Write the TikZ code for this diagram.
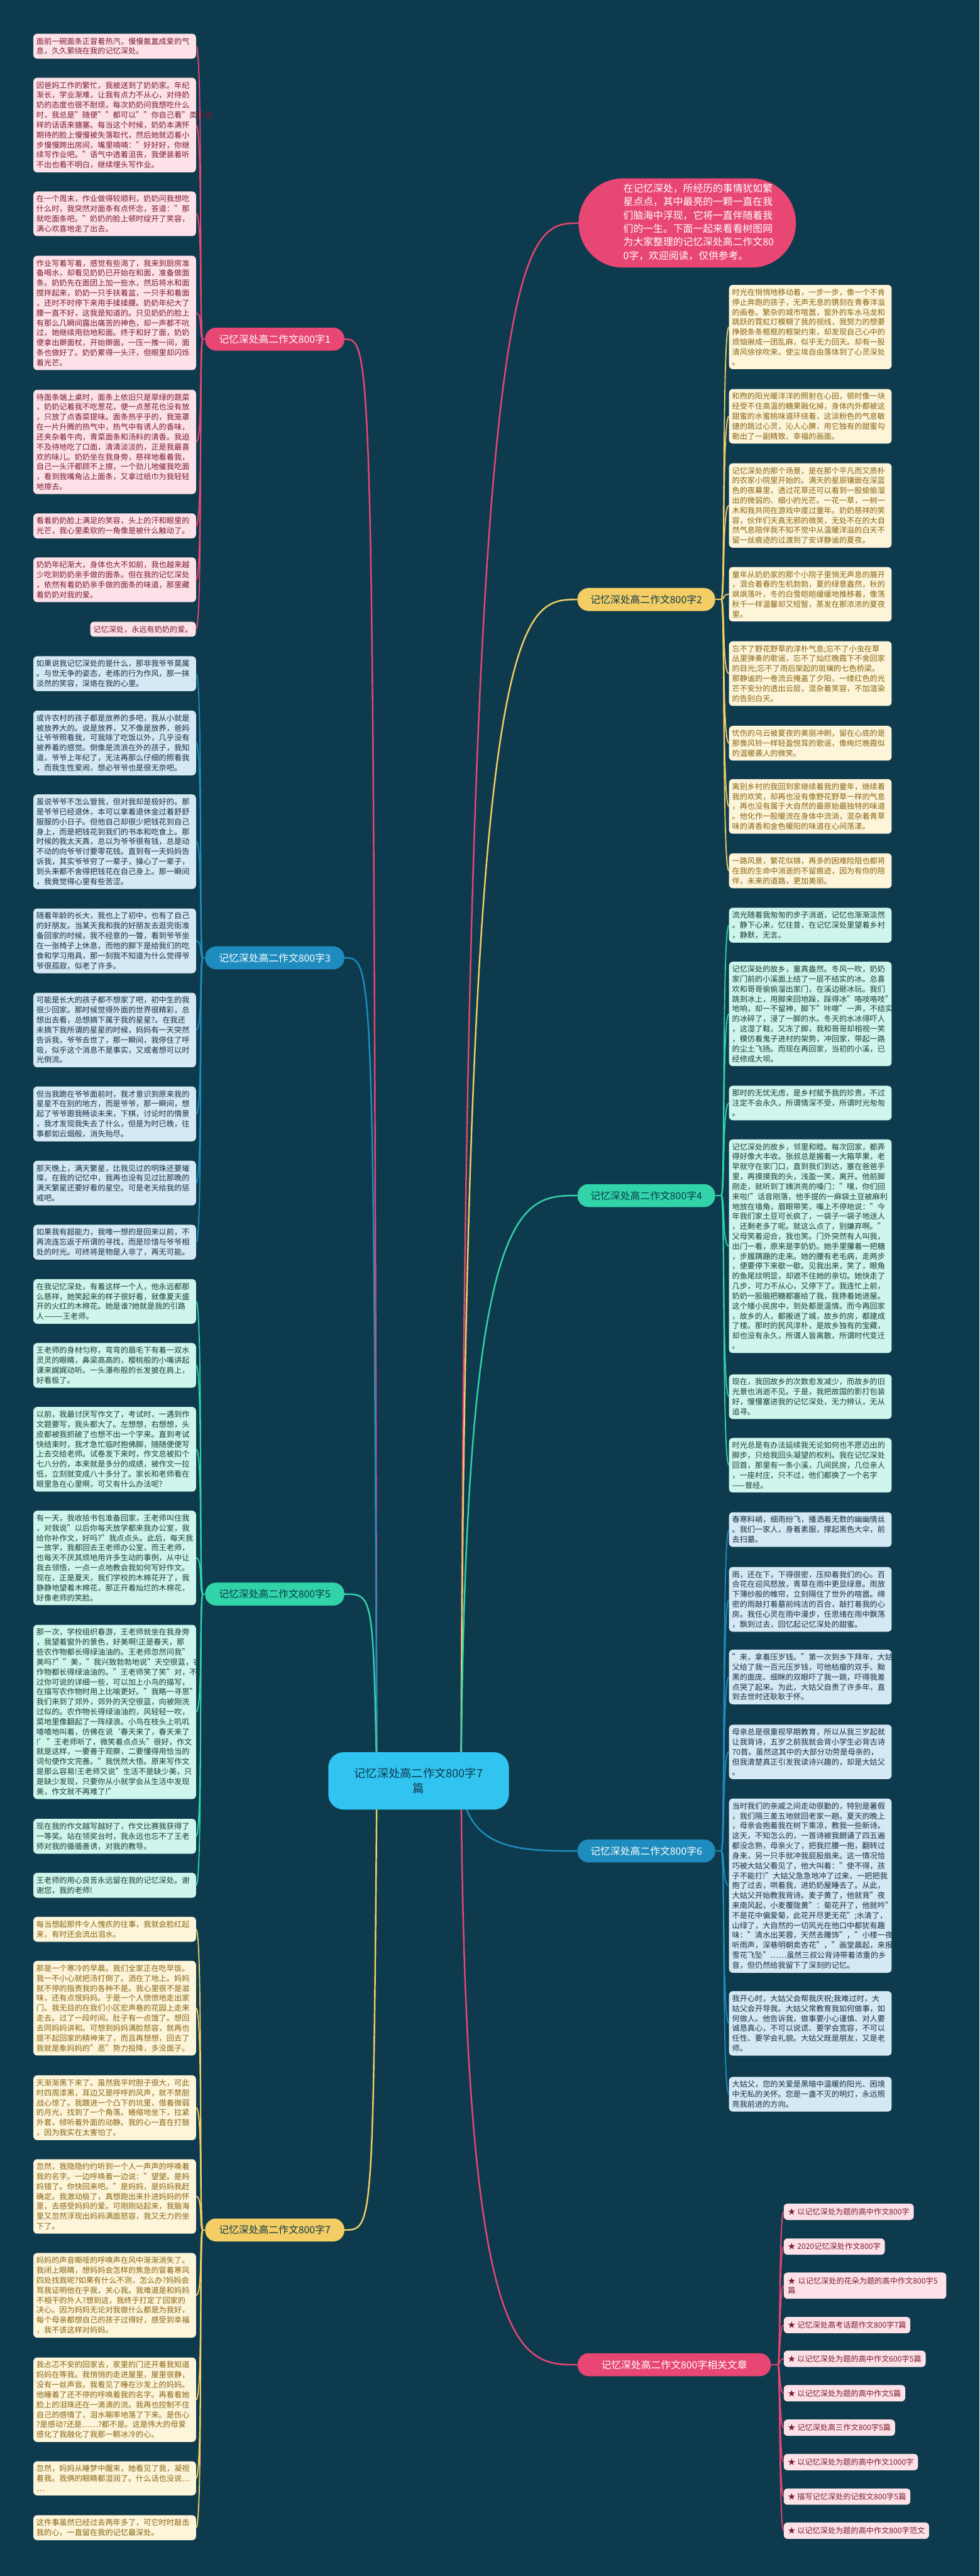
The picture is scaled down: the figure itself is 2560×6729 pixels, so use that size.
\documentclass[tikz,border=0pt]{standalone}
\usepackage{fontspec}
\setmainfont{Noto Sans CJK SC}
\definecolor{bgc}{RGB}{13,58,77}
\definecolor{pinkc}{RGB}{232,70,115}
\definecolor{pinkf}{RGB}{252,226,232}
\definecolor{pinkt}{RGB}{125,28,46}
\definecolor{bluec}{RGB}{30,140,190}
\definecolor{bluef}{RGB}{212,233,243}
\definecolor{bluet}{RGB}{22,48,72}
\definecolor{greenc}{RGB}{48,212,168}
\definecolor{greenf}{RGB}{206,246,236}
\definecolor{greent}{RGB}{28,60,56}
\definecolor{yelc}{RGB}{244,206,100}
\definecolor{yelf}{RGB}{253,245,218}
\definecolor{yelt}{RGB}{138,100,20}
\definecolor{cyanc}{RGB}{50,196,240}
\tikzset{
  txt/.style={font=\fontsize{20}{26}\selectfont, rounded corners=10pt, align=left, inner xsep=8pt, inner ysep=10pt},
  lbox/.style={txt, text width=409pt, anchor=north west},
  pbox/.style={lbox, fill=pinkf, text=pinkt},
  bbox/.style={lbox, fill=bluef, text=bluet},
  gbox/.style={lbox, fill=greenf, text=greent},
  ybox/.style={lbox, fill=yelf, text=yelt},
  relbox/.style={font=\fontsize{20}{26}\selectfont, rounded corners=10pt, align=left, inner xsep=11pt, inner ysep=12pt, fill=pinkf, text=pinkt, anchor=north west},
  pill/.style={font=\fontsize{26}{30}\selectfont, rounded corners=29pt, minimum height=60pt, inner xsep=14pt},
  pl/.style={draw=pinkc, line width=3pt},
  bl/.style={draw=bluec, line width=3pt},
  gl/.style={draw=greenc, line width=3pt},
  yl/.style={draw=yelc, line width=3pt},
}
\begin{document}
\begin{tikzpicture}[x=1pt,y=-1pt]
\useasboundingbox (0,0) rectangle (2560,6729);
\fill[bgc] (0,0) rectangle (2560,6729);

% ---------- hubs ----------
\coordinate (h1) at (530,886);
\coordinate (h3) at (530,2502);
\coordinate (h5) at (530,4164);
\coordinate (h7) at (530,5825);
\coordinate (h2) at (1885,1566);
\coordinate (h4) at (1885,3123);
\coordinate (h6) at (1885,4835);
\coordinate (hr) at (2033,6177);
\coordinate (sl) at (985,4652);
\coordinate (sr) at (1205,4652);

% ---------- branch pills ----------
\node[pill, fill=pinkc, text=white, minimum width=364pt] (p1) at (718,886) {记忆深处高二作文800字1};
\node[pill, fill=bluec, text=white, minimum width=364pt] (p3) at (718,2502) {记忆深处高二作文800字3};
\node[pill, fill=greenc, text=bgc, minimum width=364pt] (p5) at (718,4164) {记忆深处高二作文800字5};
\node[pill, fill=yelc, text=bgc, minimum width=364pt] (p7) at (718,5825) {记忆深处高二作文800字7};
\node[pill, fill=yelc, text=bgc, minimum width=360pt] (p2) at (1689,1566) {记忆深处高二作文800字2};
\node[pill, fill=greenc, text=bgc, minimum width=360pt] (p4) at (1689,3123) {记忆深处高二作文800字4};
\node[pill, fill=bluec, text=white, minimum width=360pt] (p6) at (1689,4835) {记忆深处高二作文800字6};
\node[pill, fill=pinkc, text=white, minimum width=505pt] (pr) at (1762,6177) {记忆深处高二作文800字相关文章};

% ---------- intro ----------
\fill[pinkc, rounded corners=116pt] (1512,466) rectangle (2080,699);
\node[font=\fontsize{26}{35}\selectfont, text=white, align=left, anchor=north west, inner sep=0pt] (intro) at (1629,480) {在记忆深处，所经历的事情犹如繁\\星点点，其中最亮的一颗一直在我\\们脑海中浮现，它将一直伴随着我\\们的一生。下面一起来看看树图网\\为大家整理的记忆深处高二作文80\\0字，欢迎阅读，仅供参考。};
\coordinate (introw) at (1512,583);

% ---------- center connectors ----------
\draw[pl, line width=4pt] (sl) .. controls (975,886) and (975,886) .. (p1.east);
\draw[bl, line width=4pt] (sl) .. controls (975,2502) and (975,2502) .. (p3.east);
\draw[gl, line width=4pt] (sl) .. controls (975,4164) and (975,4164) .. (p5.east);
\draw[yl, line width=4pt] (sl) .. controls (975,5825) and (975,5825) .. (p7.east);
\draw[pl, line width=4pt] (sr) .. controls (1215,583) and (1360,583) .. (introw);
\draw[yl, line width=4pt] (sr) .. controls (1215,1566) and (1360,1566) .. (p2.west);
\draw[gl, line width=4pt] (sr) .. controls (1215,3123) and (1360,3123) .. (p4.west);
\draw[bl, line width=4pt] (sr) .. controls (1215,4835) and (1360,4835) .. (p6.west);
\draw[pl, line width=4pt] (sr) .. controls (1215,6177) and (1360,6177) .. (pr.west);

% ---------- center node ----------
\node[fill=cyanc, text=bgc, rounded corners=40pt, minimum width=472pt, minimum height=150pt, align=center, font=\fontsize{30}{40}\selectfont] (C) at (1094,4652) {记忆深处高二作文800字7\\篇};

% ---------- branch 1 ----------
\node[pbox] (B1) at (87,88) {面前一碗面条正冒着热汽，慢慢氤氲成爱的气\\息，久久萦绕在我的记忆深处。};
\node[pbox] (B2) at (87,203) {因爸妈工作的繁忙，我被送到了奶奶家。年纪\\渐长，学业渐难，让我有点力不从心，对待奶\\奶的态度也很不耐烦，每次奶奶问我想吃什么\\时，我总是"随便""都可以""你自己看"类似这\\样的话语来搪塞。每当这个时候，奶奶本满怀\\期待的脸上慢慢被失落取代，然后她就迈着小\\步慢慢跨出房间，嘴里喃喃："好好好，你继\\续写作业吧。"语气中透着沮丧，我便装着听\\不出也看不明白，继续埋头写作业。};
\node[pbox] (B3) at (87,500) {在一个周末，作业做得较顺利，奶奶问我想吃\\什么时，我突然对面条有点怀念，答道："那\\就吃面条吧。"奶奶的脸上顿时绽开了笑容，\\满心欢喜地走了出去。};
\node[pbox] (B4) at (87,668) {作业写着写着，感觉有些渴了，我来到厨房准\\备喝水，却看见奶奶已开始在和面，准备做面\\条。奶奶先在面团上加一些水，然后将水和面\\搅拌起来，奶奶一只手扶着盆，一只手和着面\\，还时不时停下来用手揉揉腰。奶奶年纪大了\\腰一直不好，这我是知道的。只见奶奶的脸上\\有那么几瞬间露出痛苦的神色，却一声都不吭\\过，她继续用劲地和面。终于和好了面，奶奶\\便拿出擀面杖，开始擀面，一压一推一间，面\\条也做好了。奶奶累得一头汗，但眼里却闪烁\\着光芒。};
\node[pbox] (B5) at (87,1018) {待面条端上桌时，面条上依旧只是翠绿的蔬菜\\，奶奶记着我不吃葱花，便一点葱花也没有放\\，只放了点香菜提味。面条热乎乎的，我笼罩\\在一片升腾的热气中，热气中有诱人的香味，\\还夹杂着牛肉，青菜面条和汤料的清香。我迫\\不及待地吃了口面，清清淡淡的，正是我最喜\\欢的味儿。奶奶坐在我身旁，慈祥地看着我，\\自己一头汗都顾不上擦，一个劲儿地催我吃面\\，看到我嘴角沾上面条，又拿过纸巾为我轻轻\\地擦去。};
\node[pbox] (B6) at (87,1341) {看着奶奶脸上满足的笑容，头上的汗和眼里的\\光芒，我心里柔软的一角像是被什么触动了。};
\node[pbox] (B7) at (87,1456) {奶奶年纪渐大，身体也大不如前，我也越来越\\少吃到奶奶亲手做的面条。但在我的记忆深处\\，依然有着奶奶亲手做的面条的味道，那里藏\\着奶奶对我的爱。};
\node[txt, fill=pinkf, text=pinkt, anchor=north east] (B8) at (512,1624) {记忆深处，永远有奶奶的爱。};

% ---------- branch 3 ----------
\node[bbox] (C1) at (87,1714) {如果说我记忆深处的是什么，那非我爷爷莫属\\。与世无争的姿态，老练的行为作风，那一抹\\淡然的笑容，深烙在我的心里。};
\node[bbox] (C2) at (87,1856) {或许农村的孩子都是放养的多吧，我从小就是\\被放养大的。说是放养，又不像是放养，爸妈\\让爷爷照看我，可我除了吃饭以外，几乎没有\\被养着的感觉。倒像是流浪在外的孩子，我知\\道，爷爷上年纪了，无法再那么仔细的照看我\\，而我生性爱闹，想必爷爷也是很无奈吧。};
\node[bbox] (C3) at (87,2075) {虽说爷爷不怎么管我，但对我却是极好的。那\\是爷爷已经退休，本可以拿着退休金过着舒舒\\服服的小日子。但他自己却很少把钱花到自己\\身上，而是把钱花到我们的书本和吃食上。那\\时候的我太天真，总以为爷爷很有钱，总是动\\不动的向爷爷讨要零花钱。直到有一天妈妈告\\诉我，其实爷爷穷了一辈子，操心了一辈子，\\到头来都不舍得把钱花在自己身上。那一瞬间\\，我竟觉得心里有些苦涩。};
\node[bbox] (C4) at (87,2373) {随着年龄的长大，我也上了初中，也有了自己\\的好朋友。当某天我和我的好朋友去逛完街准\\备回家的时候，我不经意的一瞥，看到爷爷坐\\在一张椅子上休息，而他的脚下是给我们的吃\\食和学习用具，那一刻我不知道为什么觉得爷\\爷很孤寂，似老了许多。};
\node[bbox] (C5) at (87,2593) {可能是长大的孩子都不想家了吧，初中生的我\\很少回家。那时候觉得外面的世界很精彩，总\\想出去看，总想摘下属于我的星星?。在我还\\未摘下我所谓的星星的时候，妈妈有一天突然\\告诉我，爷爷去世了，那一瞬间，我停住了呼\\吸，似乎这个消息不是事实，又或者想可以时\\光倒流。};
\node[bbox] (C6) at (87,2838) {但当我跪在爷爷面前时，我才意识到原来我的\\星星不在别的地方，而是爷爷，那一瞬间，想\\起了爷爷跟我畅谈未来，下棋，讨论时的情景\\，我才发现我失去了什么，但是为时已晚，往\\事都如云烟般，消失殆尽。};
\node[bbox] (C7) at (87,3032) {那天晚上，满天繁星，比我见过的明珠还要璀\\璨，在我的记忆中，我再也没有见过比那晚的\\满天繁星还要好看的星空。可是老天给我的惩\\戒吧。};
\node[bbox] (C8) at (87,3199) {如果我有超能力，我唯一想的是回来以前，不\\再流连忘返于所谓的寻找，而是珍惜与爷爷相\\处的时光。可终将是物是人非了，再无可能。};

% ---------- branch 5 ----------
\node[gbox] (D1) at (87,3341) {在我记忆深处，有着这样一个人，他永远都那\\么慈祥，她笑起来的样子很好看，就像夏天盛\\开的火红的木棉花。她是谁?她就是我的引路\\人———王老师。};
\node[gbox] (D2) at (87,3508) {王老师的身材匀称，弯弯的眉毛下有着一双水\\灵灵的眼睛，鼻梁高高的，樱桃般的小嘴讲起\\课来娓娓动听。一头瀑布般的长发披在肩上，\\好看极了。};
\node[gbox] (D3) at (87,3675) {以前，我最讨厌写作文了，考试时，一遇到作\\文题要写，我头都大了。左想想，右想想，头\\皮都被我抓破了也想不出一个字来。直到考试\\快结束时，我才急忙临时抱佛脚，随随便便写\\上去交给老师。试卷发下来时，作文总被扣个\\七八分的，本来就是多分的成绩，被作文一拉\\低，立刻就变成八十多分了。家长和老师看在\\眼里急在心里啊，可又有什么办法呢?};
\node[gbox] (D4) at (87,3946) {有一天，我收拾书包准备回家，王老师叫住我\\，对我说"以后你每天放学都来我办公室，我\\给你补作文，好吗?"我点点头。此后，每天我\\一放学，我都回去王老师办公室，而王老师，\\也每天不厌其烦地用许多生动的事例，从中让\\我去领悟，一点一点地教会我如何写好作文。\\现在，正是夏天，我们学校的木棉花开了，我\\静静地望着木棉花，那正开着灿烂的木棉花，\\好像老师的笑脸。};
\node[gbox] (D5) at (87,4244) {那一次，学校组织春游，王老师就坐在我身旁\\，我望着窗外的景色，好美啊!正是春天，那\\些农作物都长得绿油油的。王老师忽然问我"\\美吗?""美，"我兴致勃勃地说"天空很蓝，农\\作物都长得绿油油的。"王老师笑了笑"对，不\\过你可说的详细一些，可以加上小鸟的描写，\\在描写农作物时用上比喻更好。"我略一寻思"\\我们来到了郊外，郊外的天空很蓝，向被刚洗\\过似的。农作物长得绿油油的，风轻轻一吹，\\菜地里像翻起了一阵绿浪。小鸟在枝头上叽叽\\喳喳地叫着，仿佛在说‘春天来了，春天来了\\!’"王老师听了，微笑着点点头"很好，作文\\就是这样，一要善于观察，二要懂得用恰当的\\词句使作文完善。"我恍然大悟。原来写作文\\是那么容易!王老师又说"生活不是缺少美，只\\是缺少发现，只要你从小就学会从生活中发现\\美，作文就不再难了!"};
\node[gbox] (D6) at (87,4751) {现在我的作文越写越好了，作文比赛我获得了\\一等奖。站在领奖台时，我永远也忘不了王老\\师对我的循循善诱，对我的教导。};
\node[gbox] (D7) at (87,4892) {王老师的用心良苦永远留在我的记忆深处。谢\\谢您，我的老师!};

% ---------- branch 7 ----------
\node[ybox] (E1) at (87,5007) {每当想起那件令人愧疚的往事，我就会脸红起\\来，有时还会流出泪水。};
\node[ybox] (E2) at (87,5122) {那是一个寒冷的早晨。我们全家正在吃早饭。\\我一不小心就把汤打倒了。洒在了地上。妈妈\\就不停的指责我的各种不是。我心里很不是滋\\味，还有点恨妈妈。于是一个人愤愤地走出家\\门。我无目的在我们小区宏声巷的花园上走来\\走去。过了一段时间。肚子有一点饿了。想回\\去同妈妈讲和。可想到妈妈满脸怒容，就再也\\提不起回家的精神来了，而且再想想，回去了\\我就是象妈妈的"恶"势力投降，多没面子。};
\node[ybox] (E3) at (87,5421) {天渐渐黑下来了。虽然我平时胆子很大，可此\\时四周漆黑，耳边又是呼呼的风声，就不禁胆\\战心惊了。我踱进一个凸下的坑里，借着微弱\\的月光，找到了一个角落。蜷缩地坐下，拉紧\\外套，倾听着外面的动静。我的心一直在打鼓\\，因为我实在太害怕了。};
\node[ybox] (E4) at (87,5640) {忽然，我隐隐约约听到一个人一声声的呼唤着\\我的名字。一边呼唤着一边说："望望。是妈\\妈错了。你快回来吧。"是妈妈，是妈妈我赶\\确定。我激动极了，真想跑出来扑进妈妈的怀\\里，去感受妈妈的爱。可刚刚站起来，我脑海\\里又忽然浮现出妈妈满面怒容，我又无力的坐\\下了。};
\node[ybox] (E5) at (87,5885) {妈妈的声音嘶哑的呼唤声在风中渐渐消失了。\\我闭上眼睛，想妈妈会怎样的焦急的冒着寒风\\四处找我呢?如果有什么不测，怎么办?妈妈会\\骂我证明他在乎我，关心我。我难道是和妈妈\\不相干的外人?想到这，我终于打定了回家的\\决心。因为妈妈无论对我做什么都是为我好，\\每个母亲都想自己的孩子过得好，感受到幸福\\，我不该这样对妈妈。};
\node[ybox] (E6) at (87,6158) {我忐忑不安的回家去，家里的门还开着我知道\\妈妈在等我。我悄悄的走进屋里，屋里很静，\\没有一丝声音。我看见了睡在沙发上的妈妈。\\他睡着了还不停的呼唤着我的名字。再看看她\\脸上的泪珠还在一滴滴的流。我再也控制不住\\自己的感情了，泪水唰率地落了下来。是伤心\\?是感动?还是……?都不是。这是伟大的母爱\\感化了我融化了我那一颗冰冷的心。};
\node[ybox] (E7) at (87,6429) {忽然，妈妈从睡梦中醒来，她看见了我，凝视\\着我。我俩的眼睛都湿润了。什么话也没说…\\…};
\node[ybox] (E8) at (87,6570) {这件事虽然已经过去两年多了，可它时时敲击\\我的心，一直留在我的记忆最深处。};

% ---------- branch 2 ----------
\node[ybox] (R1) at (1905,744) {时光在悄悄地移动着，一步一步，像一个不肯\\停止奔跑的孩子，无声无息的镌刻在青春洋溢\\的画卷。繁杂的城市喧嚣，窗外的车水马龙和\\跳跃的霓虹灯模糊了我的视线，我努力的想要\\挣脱条条框框的框架约束，却发现自己心中的\\烦恼揪成一团乱麻，似乎无力回天。却有一股\\清风徐徐吹来，使尘埃自由落体到了心灵深处\\。};
\node[ybox] (R2) at (1905,1016) {和煦的阳光暖洋洋的照射在心田，顿时像一块\\经受不住高温的糖果融化掉，身体内外都被这\\甜蜜的水蜜桃味道环绕着，这淡粉色的气息敏\\捷的跳过心灵，沁人心脾，用它独有的甜蜜勾\\勒出了一副精致、幸福的画面。};
\node[ybox] (R3) at (1905,1210) {记忆深处的那个场景，是在那个平凡而又质朴\\的农家小院里开始的。满天的星辰镶嵌在深蓝\\色的夜幕里，透过花草还可以看到一股偷偷溜\\出的微弱的、细小的光芒。一花一草，一树一\\木和我共同在游戏中度过童年。奶奶慈祥的笑\\容，伙伴们天真无邪的微笑，无处不在的大自\\然气息陪伴我不知不觉中从温暖洋溢的白天不\\留一丝痕迹的过渡到了安详静谧的夏夜。};
\node[ybox] (R4) at (1905,1481) {童年从奶奶家的那个小院子里悄无声息的展开\\，混合着春的生机勃勃，夏的绿意盎然，秋的\\飒飒落叶，冬的白雪皑皑缓缓地推移着，像荡\\秋千一样温馨却又短暂，蒸发在那浓浓的夏夜\\里。};
\node[ybox] (R5) at (1905,1675) {忘不了野花野草的淳朴气息;忘不了小虫在草\\丛里弹奏的歌谣，忘不了灿烂晚霞下不舍回家\\的目光;忘不了雨后架起的斑斓的七色桥梁。\\那静谧的一卷流云掩盖了夕阳，一缕红色的光\\芒不安分的透出云层，混杂着笑容，不加渲染\\的告别白天。};
\node[ybox] (R6) at (1905,1896) {忧伤的乌云被夏夜的美丽冲刷，留在心底的是\\那像风铃一样轻盈悦耳的歌谣，像绚烂晚霞似\\的温暖袭人的微笑。};
\node[ybox] (R7) at (1905,2035) {离别乡村的我回到家继续着我的童年，继续着\\我的欢笑，却再也没有像野花野草一样的气息\\，再也没有属于大自然的最原始最独特的味道\\。他化作一股暖流在身体中流淌，混杂着青草\\味的清香和金色暖阳的味道在心间荡漾。};
\node[ybox] (R8) at (1905,2229) {一路风景，繁花似锦，再多的困难险阻也都将\\在我的生命中消逝的不留痕迹，因为有你的陪\\伴，未来的道路，更加美丽。};

% ---------- branch 4 ----------
\node[gbox] (G1) at (1905,2371) {流光随着我匆匆的步子消逝，记忆也渐渐淡然\\。静下心来，忆往昔，在记忆深处里望着乡村\\，静默，无言。};
\node[gbox] (G2) at (1905,2512) {记忆深处的故乡，童真盎然。冬风一吹，奶奶\\家门前的小溪面上结了一层不结实的冰。总喜\\欢和哥哥偷偷溜出家门，在溪边砸冰玩。我们\\跳到冰上，用脚来回地跺，踩得冰"咯吱咯吱"\\地响，却一不留神，脚下"咔嚓"一声，不结实\\的冰碎了，浸了一脚的水。冬天的水冰得吓人\\，这湿了鞋，又冻了脚，我和哥哥却相视一笑\\，模仿着鬼子进村的架势，冲回家，带起一路\\的尘土飞扬。而现在再回家，当初的小溪，已\\经修成大坝。};
\node[gbox] (G3) at (1905,2836) {那时的无忧无虑，是乡村赋予我的珍贵，不过\\注定不会永久，所谓情深不受，所谓时光匆匆\\。};
\node[gbox] (G4) at (1905,2976) {记忆深处的故乡，邻里和睦。每次回家，都弄\\得好像大丰收。张叔总是搬着一大箱苹果，老\\早就守在家门口，直到我们到达，塞在爸爸手\\里，再摸摸我的头，浅盈一笑，离开。他前脚\\刚走，就听到丁姨洪亮的嗓门："嘿，你们回\\来啦!"话音刚落，他手提的一麻袋土豆被麻利\\地放在墙角，眉眼带笑，嘴上不停地说："今\\年我们家土豆可长疯了，一袋子一袋子地送人\\，还剩老多了呢。就这么点了，别嫌弃啊。"\\父母笑着迎合，我也笑。门外突然有人叫我，\\出门一看，原来是李奶奶。她手里攥着一把糖\\，步履蹒跚的走来。她的腰有老毛病，走两步\\，便要停下来歇一歇。见我出来，笑了，眼角\\的鱼尾纹明显，却遮不住她的亲切。她快走了\\几步，可力不从心，又停下了。我连忙上前，\\奶奶一股脑把糖都塞给了我，我搀着她进屋。\\这个矮小民房中，到处都是温情。而今再回家\\，故乡的人，都搬进了城，故乡的房，都建成\\了楼。那时的民风淳朴，是故乡独有的宝藏，\\却也没有永久，所谓人皆离散，所谓时代变迁\\。};
\node[gbox] (G5) at (1905,3590) {现在，我回故乡的次数愈发减少，而故乡的旧\\光景也消逝不见。于是，我把故国的影打包装\\好，慢慢塞进我的记忆深处，无力辨认，无从\\追寻。};
\node[gbox] (G6) at (1905,3756) {时光总是有办法延续我无论如何也不愿迈出的\\脚步，只给我回头凝望的权利。我在记忆深处\\回首，那里有一条小溪，几间民房，几位亲人\\，一座村庄，只不过，他们都换了一个名字\\——曾经。};

% ---------- branch 6 ----------
\node[bbox] (H1) at (1905,3950) {春寒料峭，细雨纷飞，播洒着无数的幽幽情丝\\。我们一家人，身着素服，撑起黑色大伞，前\\去扫墓。};
\node[bbox] (H2) at (1905,4093) {雨，还在下，下得很密，压抑着我们的心。百\\合花在迎风怒放，青草在雨中更显绿意。雨放\\下薄纱般的帷帘，立刻隔住了世外的喧嚣。绵\\密的雨敲打着墓前纯洁的百合，敲打着我的心\\房。我任心灵在雨中漫步，任思绪在雨中飘荡\\，飘到过去，回忆起记忆深处的甜蜜。};
\node[bbox] (H3) at (1905,4309) {"来，拿着压岁钱。"第一次到乡下拜年，大姑\\父给了我一百元压岁钱，可他枯瘦的双手、黝\\黑的面庞、细眯的双眼吓了我一跳，吓得我差\\点哭了起来。为此，大姑父自责了许多年，直\\到去世时还耿耿于怀。};
\node[bbox] (H4) at (1905,4505) {母亲总是很重视早期教育，所以从我三岁起就\\让我背诗，五岁之前我就会背小学生必背古诗\\70首。虽然这其中的大部分功劳是母亲的，\\但我清楚真正引发我读诗兴趣的，却是大姑父\\。};
\node[bbox] (H5) at (1905,4698) {当时我们的亲戚之间走动很勤的，特别是暑假\\，我们隔三差五地就回老家一趟。夏天的晚上\\，母亲会抱着我在树下乘凉，教我一些新诗。\\这天，不知怎么的，一首诗被我朗诵了四五遍\\都没念熟，母亲火了，把我拦腰一抱，翻转过\\身来，另一只手就冲我屁股扇来。这一情况恰\\巧被大姑父看见了，他大叫着："使不得，孩\\子不能打!"大姑父急急地冲了过来，一把把我\\抱了过去，哄着我，进奶奶屋睡去了。从此，\\大姑父开始教我背诗。麦子黄了，他就背"夜\\来南风起，小麦覆陇黄"：菊花开了，他就吟"\\不是花中偏爱菊，此花开尽更无花";水清了，\\山绿了，大自然的一切风光在他口中都犹有趣\\味："清水出芙蓉，天然去雕饰"，"小楼一夜\\听雨声，深巷明朝卖杏花"，"画堂晨起，来报\\雪花飞坠"……虽然三叔公背诗带着浓重的乡\\音，但仍然给我留下了深刻的记忆。};
\node[bbox] (H6) at (1905,5201) {我开心时，大姑父会帮我庆祝;我难过时，大\\姑父会开导我。大姑父常教育我如何做事，如\\何做人。他告诉我，做事要小心谨慎、对人要\\诚恳真心，不可以说谎、要学会宽容，不可以\\任性、要学会礼貌。大姑父既是朋友，又是老\\师。};
\node[bbox] (H7) at (1905,5425) {大姑父，您的关爱是黑暗中温暖的阳光、困境\\中无私的关怀。您是一盏不灭的明灯，永远照\\亮我前进的方向。};

% ---------- related ----------
\node[relbox] (L1) at (2048,5756) {★ 以记忆深处为题的高中作文800字};
\node[relbox] (L2) at (2048,5847) {★ 2020记忆深处作文800字};
\node[relbox, text width=403pt] (L3) at (2048,5936) {★ 以记忆深处的花朵为题的高中作文800字5\\篇};
\node[relbox] (L4) at (2048,6052) {★ 记忆深处高考话题作文800字7篇};
\node[relbox] (L5) at (2048,6140) {★ 以记忆深处为题的高中作文600字5篇};
\node[relbox] (L6) at (2048,6230) {★ 以记忆深处为题的高中作文5篇};
\node[relbox] (L7) at (2048,6320) {★ 记忆深处高三作文800字5篇};
\node[relbox] (L8) at (2048,6410) {★ 以记忆深处为题的高中作文1000字};
\node[relbox] (L9) at (2048,6500) {★ 描写记忆深处的记叙文800字5篇};
\node[relbox] (L10) at (2048,6589) {★ 以记忆深处为题的高中作文800字范文};

% ---------- box connectors ----------
\foreach \n in {B1,B2,B3,B4,B5,B6,B7,B8}
  \draw[pl] (\n.east) .. controls +(18,0) and +(-10,0) .. (h1);
\draw[pl] (h1) -- (p1.west);
\foreach \n in {C1,C2,C3,C4,C5,C6,C7,C8}
  \draw[bl] (\n.east) .. controls +(18,0) and +(-10,0) .. (h3);
\draw[bl] (h3) -- (p3.west);
\foreach \n in {D1,D2,D3,D4,D5,D6,D7}
  \draw[gl] (\n.east) .. controls +(18,0) and +(-10,0) .. (h5);
\draw[gl] (h5) -- (p5.west);
\foreach \n in {E1,E2,E3,E4,E5,E6,E7,E8}
  \draw[yl] (\n.east) .. controls +(18,0) and +(-10,0) .. (h7);
\draw[yl] (h7) -- (p7.west);
\foreach \n in {R1,R2,R3,R4,R5,R6,R7,R8}
  \draw[yl] (h2) .. controls +(10,0) and +(-18,0) .. (\n.west);
\draw[yl] (p2.east) -- (h2);
\foreach \n in {G1,G2,G3,G4,G5,G6}
  \draw[gl] (h4) .. controls +(10,0) and +(-18,0) .. (\n.west);
\draw[gl] (p4.east) -- (h4);
\foreach \n in {H1,H2,H3,H4,H5,H6,H7}
  \draw[bl] (h6) .. controls +(10,0) and +(-18,0) .. (\n.west);
\draw[bl] (p6.east) -- (h6);
\foreach \n in {L1,L2,L3,L4,L5,L6,L7,L8,L9,L10}
  \draw[pl] (hr) .. controls +(6,0) and +(-12,0) .. (\n.west);
\draw[pl] (pr.east) -- (hr);
\end{tikzpicture}
\end{document}
